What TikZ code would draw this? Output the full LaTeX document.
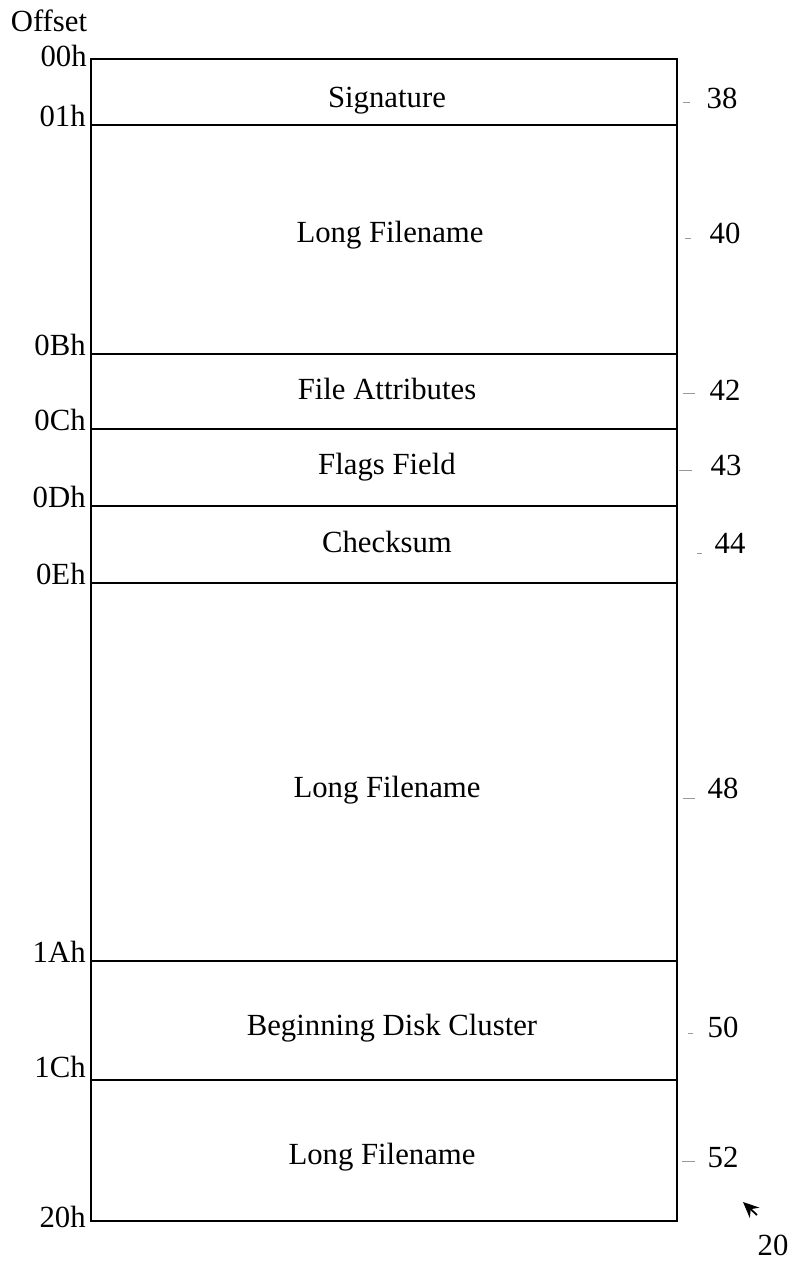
\documentclass[tikz,border=0pt]{standalone}
\usepackage{fontspec}
\setmainfont{Liberation Serif}
\usetikzlibrary{arrows.meta}
\begin{document}
\begin{tikzpicture}[x=0.02cm,y=-0.02cm,
    every node/.style={font=\fontsize{17.5}{21}\selectfont, inner sep=0pt},
    off/.style={anchor=base east},
    fld/.style={anchor=base},
    leader/.style={draw=black!40, line width=0.4pt}]
  \useasboundingbox (0,0) rectangle (795,1262);
  \node (offset) at (49,21) {Offset};
  \node[off] (o00) at (87,66) {00h};
  \node[off] (o01) at (86,126) {01h};
  \node[off] (o0B) at (86,355) {0Bh};
  \node[off] (o0C) at (86,430) {0Ch};
  \node[off] (o0D) at (86,507) {0Dh};
  \node[off] (o0E) at (86,584) {0Eh};
  \node[off] (o1A) at (86,962) {1Ah};
  \node[off] (o1C) at (86,1077) {1Ch};
  \node[off] (o20) at (86,1227) {20h};
  \draw[line width=1.6pt] (91,59) rectangle (677,1221);
  \foreach \y in {125,354,429,506,583,961,1080}
    \draw[line width=1.6pt] (91,\y) -- (677,\y);
  \node[fld] (sig) at (387,107) {Signature};
  \node[fld] (lfa) at (390,242) {Long Filename};
  \node[fld] (attr) at (387,399) {File Attributes};
  \node[fld] (flags) at (387,474) {Flags Field};
  \node[fld] (csum) at (387,552) {Checksum};
  \node[fld] (lfb) at (387,797) {Long Filename};
  \node[fld] (clus) at (392,1035) {Beginning Disk Cluster};
  \node[fld] (lfc) at (382,1164) {Long Filename};
  \node (n38) at (722,98) {38};
  \node (n40) at (725,233) {40};
  \node (n42) at (725,390) {42};
  \node (n43) at (726,465) {43};
  \node (n44) at (730,543) {44};
  \node (n48) at (723,788) {48};
  \node (n50) at (723,1027) {50};
  \node (n52) at (723,1157) {52};
  \node (n20) at (773,1245) {20};
  \draw[leader] (683,102) -- (690,102) (685,238) -- (691,238)
    (683,393) -- (695,393) (679,470) -- (692,470)
    (697,553) -- (702,553) (683,798) -- (695,798)
    (688,1033) -- (693,1033) (682,1161) -- (695,1161);
  \coordinate (tail) at (757,1215);
  \coordinate (tip) at (743,1202);
  \draw[-{Stealth[length=9pt,width=8pt,inset=3pt]}, line width=1pt] (tail) -- (tip);
\end{tikzpicture}
\end{document}
